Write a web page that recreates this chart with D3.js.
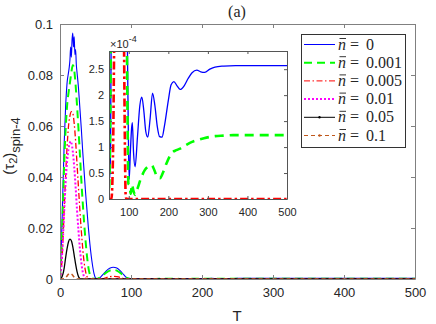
<!DOCTYPE html>
<html>
<head>
<meta charset="utf-8">
<script src="https://d3js.org/d3.v7.min.js"></script>
<style>
  body {margin: 0; background: #fff;}
  text {font-family: "Liberation Sans", Arial, sans-serif; fill: #262626;}
  text.serif {font-family: "Liberation Serif", "Times New Roman", serif;}
</style>
</head>
<body>
<svg id="chart" width="436" height="324"></svg>
<script>
// data: [T, value]
const n0 = [[0,0],[2,0.014],[4,0.034],[6,0.054],[8,0.068],[10,0.077],[12,0.081],[13,0.083],[14,0.086],[15,0.091],[16,0.087],[17,0.094],[18,0.0965],[19,0.091],[20,0.095],[21,0.088],[22,0.09],[23,0.084],[24,0.081],[26,0.075],[28,0.067],[30,0.059],[32,0.05],[34,0.042],[36,0.034],[38,0.027],[40,0.02],[42,0.014],[44,0.009],[46,0.005],[48,0.002],[50,0.0004],[52,0.00004],[54,0.0001],[56,0.0004],[58,0.001],[62,0.0022],[66,0.0034],[70,0.0042],[75,0.0046],[80,0.0043],[85,0.0032],[90,0.0016],[93,0.0007],[95,0.00042],[97,0.00026],[99,0.00012],[101,0.000038],[104,0.00009],[107,0.000135],[109,0.000147],[112,0.00009],[116,0.000062],[122,0.00012],[128,0.00018],[133,0.000196],[138,0.00017],[143,0.00013],[148,0.000119],[154,0.000155],[160,0.000204],[166,0.00018],[172,0.00014],[178,0.00012],[184,0.000119],[190,0.00014],[200,0.00019],[207,0.00022],[214,0.000226],[222,0.000218],[230,0.000211],[240,0.000218],[250,0.000232],[260,0.000243],[272,0.000248],[282,0.000245],[292,0.000244],[305,0.00025],[318,0.000254],[340,0.000256],[370,0.000257],[500,0.000257]];
const n001 = [[0,0],[2,0.011],[4,0.028],[6,0.046],[8,0.059],[10,0.068],[12,0.073],[14,0.077],[16,0.081],[18,0.0838],[19,0.0835],[20,0.082],[22,0.076],[24,0.068],[26,0.059],[28,0.049],[30,0.039],[32,0.03],[34,0.022],[36,0.015],[38,0.009],[40,0.0045],[42,0.0018],[44,0.0007],[46,0.00025],[48,0.00006],[50,0.00002],[52,0.00008],[54,0.00025],[56,0.0005],[60,0.0013],[65,0.0025],[70,0.0033],[75,0.0036],[80,0.0033],[85,0.0024],[90,0.0012],[93,0.0006],[95,0.00033],[97,0.00015],[99,0.00003],[102,0.000025],[105,0.00001],[108,0.000028],[112,0.000015],[116,0.000008],[122,0.00002],[130,0.000038],[140,0.000055],[150,0.000063],[158,0.000065],[165,0.000055],[172,0.000042],[179,0.00004],[186,0.00005],[195,0.000068],[208,0.000088],[220,0.000094],[230,0.000097],[245,0.000104],[260,0.00011],[272,0.000113],[290,0.000117],[318,0.000121],[340,0.000122],[364,0.000123],[500,0.000123]];
const n005 = [[0,0],[2,0.004],[4,0.014],[6,0.028],[8,0.041],[10,0.052],[12,0.06],[14,0.064],[16,0.0656],[18,0.065],[20,0.061],[22,0.054],[24,0.045],[26,0.036],[28,0.027],[30,0.019],[32,0.012],[34,0.0065],[36,0.003],[38,0.001],[40,0.0003],[42,0.00008],[44,0.00001],[50,0],[56,0],[60,0.00008],[63,0.0003],[66,0.0006],[70,0.0009],[75,0.001],[80,0.0009],[85,0.0006],[88,0.0003],[90,0.00012],[92,0.00001],[94,0],[500,0]];
const n01 = [[0,0],[2,0.005],[4,0.015],[6,0.027],[8,0.038],[10,0.046],[12,0.051],[14,0.0535],[15,0.054],[16,0.0535],[18,0.05],[20,0.044],[22,0.036],[24,0.027],[26,0.019],[28,0.012],[30,0.0065],[32,0.0028],[34,0.0009],[36,0.0002],[38,0],[500,0]];
const n05 = [[0,0],[2,0.0004],[4,0.0018],[6,0.0045],[8,0.0085],[10,0.012],[12,0.0146],[14,0.0156],[16,0.015],[18,0.0127],[20,0.0093],[22,0.0058],[24,0.0029],[26,0.001],[28,0.0002],[30,0],[500,0]];
const n1 = [[0,0],[4,0],[6,0.0001],[8,0.0005],[10,0.0012],[12,0.0019],[14,0.0022],[16,0.002],[18,0.0014],[20,0.0007],[22,0.0002],[24,0],[500,0]];

const legendLabels = ['0', '0.001', '0.005', '0.01', '0.05', '0.1'];
const xTicks = [0, 100, 200, 300, 400, 500];
const yTicks = [0, 0.02, 0.04, 0.06, 0.08, 0.1];
const yTickLabels = ['0', '0.02', '0.04', '0.06', '0.08', '0.1'];
const insetXTicks = [100, 200, 300, 400, 500];
const insetYTicks = [0, 0.5e-4, 1e-4, 1.5e-4, 2e-4, 2.5e-4];
const insetYTickLabels = ['0', '0.5', '1', '1.5', '2', '2.5'];

const series = [
  {data: n0, color: '#0000ff', w: 1.1, dash: null, wi: 1.3},
  {data: n001, color: '#00ff00', w: 2, dash: '8,5', wi: 2.6},
  {data: n005, color: '#ff0000', w: 1.3, dash: '6,2.5,1.5,2.5', wi: 2.6},
  {data: n01, color: '#ff00ff', w: 2, dash: '2,2'},
  {data: n05, color: '#000000', w: 1.3, dash: null, marker: true},
  {data: n1, color: '#c0581c', w: 1.5, dash: '4,3', marker: true}
];

const svg = d3.select('#chart');
const serif = '"Liberation Serif", "Times New Roman", serif';

const x = d3.scaleLinear().domain([0, 500]).range([60, 415]);
const y = d3.scaleLinear().domain([0, 0.1]).range([279, 24]);
const xi = d3.scaleLinear().domain([50, 500]).range([109, 287]);
const yi = d3.scaleLinear().domain([0, 2.85e-4]).range([199, 51]);

function styleAxis(g, col, fs) {
  g.select('.domain').attr('stroke', col);
  g.selectAll('.tick line').attr('stroke', col);
  g.selectAll('.tick text').style('font-size', fs).style('font-family', '"Liberation Sans", Arial, sans-serif').attr('fill', '#262626');
}

// main axes
svg.append('rect').attr('x', 60).attr('y', 24).attr('width', 355).attr('height', 255).attr('fill', '#fff');
svg.append('defs').append('clipPath').attr('id', 'clipMain')
  .append('rect').attr('x', 60).attr('y', 22).attr('width', 355).attr('height', 258);
svg.select('defs').append('clipPath').attr('id', 'clipInset')
  .append('rect').attr('x', 109).attr('y', 51).attr('width', 178).attr('height', 149);

const line = d3.line().x(d => x(d[0])).y(d => y(d[1])).curve(d3.curveMonotoneX);
const gMain = svg.append('g').attr('clip-path', 'url(#clipMain)');
series.forEach(s => {
  gMain.append('path').attr('d', line(s.data)).attr('fill', 'none')
    .attr('stroke', s.color).attr('stroke-width', s.w)
    .attr('stroke-dasharray', s.dash);
});

svg.append('g').attr('transform', 'translate(0,279)')
  .call(d3.axisBottom(x).tickValues(xTicks).tickSizeInner(-4).tickSizeOuter(0).tickPadding(9))
  .call(g => styleAxis(g, '#808080', '13px'));
svg.append('g').attr('transform', 'translate(0,24)')
  .call(d3.axisTop(x).tickValues(xTicks).tickSizeInner(-4).tickSizeOuter(0).tickFormat(''))
  .call(g => styleAxis(g, '#808080', '13px'));
svg.append('g').attr('transform', 'translate(60,0)')
  .call(d3.axisLeft(y).tickValues(yTicks).tickSizeInner(-4).tickSizeOuter(0).tickPadding(7)
    .tickFormat((d, i) => yTickLabels[i]))
  .call(g => styleAxis(g, '#808080', '13px'));
svg.append('g').attr('transform', 'translate(415,0)')
  .call(d3.axisRight(y).tickValues(yTicks).tickSizeInner(-4).tickSizeOuter(0).tickFormat(''))
  .call(g => styleAxis(g, '#808080', '13px'));

// inset
svg.append('rect').attr('x', 109).attr('y', 51).attr('width', 178).attr('height', 148).attr('fill', '#fff');
const lineI = d3.line().x(d => xi(d[0])).y(d => yi(d[1])).curve(d3.curveMonotoneX);
const gInset = svg.append('g').attr('clip-path', 'url(#clipInset)');
series.slice(0, 3).forEach(s => {
  gInset.append('path').attr('d', lineI(s.data.filter(d => d[0] >= 46))).attr('fill', 'none')
    .attr('stroke', s.color).attr('stroke-width', s.wi)
    .attr('stroke-dasharray', s.dash === '8,5' ? '9,6' : (s.dash ? '8,3,2.5,3' : null));
});

svg.append('g').attr('transform', 'translate(0,199)')
  .call(d3.axisBottom(xi).tickValues(insetXTicks).tickSizeInner(-3).tickSizeOuter(0).tickPadding(9))
  .call(g => styleAxis(g, '#555', '11px'));
svg.append('g').attr('transform', 'translate(0,51)')
  .call(d3.axisTop(xi).tickValues(insetXTicks).tickSizeInner(-3).tickSizeOuter(0).tickFormat(''))
  .call(g => styleAxis(g, '#555', '11px'));
svg.append('g').attr('transform', 'translate(109,0)')
  .call(d3.axisLeft(yi).tickValues(insetYTicks).tickSizeInner(-3).tickSizeOuter(0).tickPadding(5)
    .tickFormat((d, i) => insetYTickLabels[i]))
  .call(g => styleAxis(g, '#555', '11px'));
svg.append('g').attr('transform', 'translate(287,0)')
  .call(d3.axisRight(yi).tickValues(insetYTicks).tickSizeInner(-3).tickSizeOuter(0).tickFormat(''))
  .call(g => styleAxis(g, '#555', '11px'));

const ex = svg.append('text').attr('x', 110).attr('y', 48).style('font-size', '11px');
ex.append('tspan').text('\u00d710');
ex.append('tspan').attr('dy', -6).style('font-size', '9px').text('-4');

// legend
svg.append('rect').attr('x', 301.5).attr('y', 34.5).attr('width', 104).attr('height', 113)
  .attr('fill', '#fff').attr('stroke', '#333').attr('stroke-width', 1);
legendLabels.forEach((lab, i) => {
  const s = series[i];
  const ry = 44.5 + i * 18.2;
  svg.append('line').attr('x1', 304).attr('x2', 335).attr('y1', ry).attr('y2', ry)
    .attr('stroke', s.color).attr('stroke-width', i === 1 || i === 3 ? 2 : 1)
    .attr('stroke-dasharray', s.dash);
  if (s.marker) {
    svg.append('circle').attr('cx', 319.5).attr('cy', ry).attr('r', 1.2).attr('fill', s.color);
  }
  svg.append('text').attr('x', 338).attr('y', ry + 5)
    .style('font-family', serif).style('font-size', '16px').style('font-style', 'italic').attr('fill', '#000').text('n');
  svg.append('line').attr('x1', 339.5).attr('x2', 346).attr('y1', ry - 6).attr('y2', ry - 6)
    .attr('stroke', '#000').attr('stroke-width', 0.8);
  svg.append('text').attr('x', 350).attr('y', ry + 5)
    .style('font-family', serif).style('font-size', '16px').attr('fill', '#000').text('=');
  svg.append('text').attr('x', 366).attr('y', ry + 5)
    .style('font-family', serif).style('font-size', '16px').attr('fill', '#000').text(lab);
});

// titles
svg.append('text').attr('x', 237).attr('y', 17).style('font-family', serif)
  .attr('text-anchor', 'middle').style('font-size', '16px').attr('fill', '#000').text('(a)');
svg.append('text').attr('x', 237).attr('y', 321)
  .attr('text-anchor', 'middle').style('font-size', '15px').text('T');
const yl = svg.append('text').attr('transform', 'translate(14,146) rotate(-90)')
  .attr('text-anchor', 'middle').style('font-size', '15px');
yl.append('tspan').text('(\u03c4');
yl.append('tspan').attr('dy', 3).style('font-size', '11px').text('2');
yl.append('tspan').attr('dy', -3).text(')');
yl.append('tspan').attr('dy', 6).style('font-size', '13px').text('spin-4');
</script>
</body>
</html>
